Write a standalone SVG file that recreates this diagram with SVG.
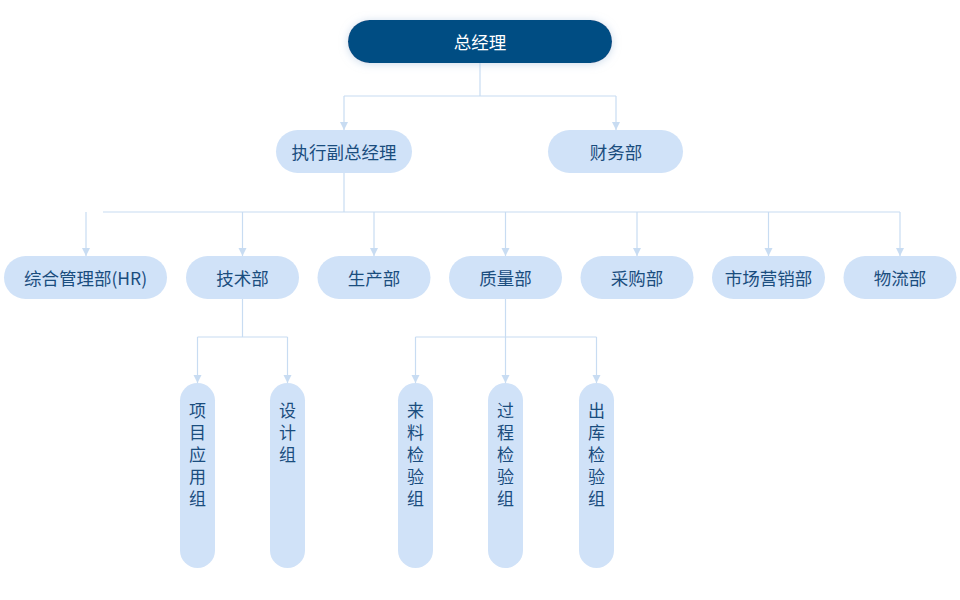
<svg xmlns="http://www.w3.org/2000/svg" width="960" height="600" viewBox="0 0 960 600">
<style>
.bg{fill:#ffffff}
.lt{fill:#d0e2f8}
.dk{fill:#004d83}
.t{font-family:"Noto Sans CJK SC","Noto Sans",sans-serif;font-size:17.5px;fill:#1a4d7e;text-anchor:middle;dominant-baseline:central}
.tw{fill:#ffffff}
.tv{font-family:"Noto Sans CJK SC","Noto Sans",sans-serif;font-size:17px;fill:#1a4d7e;writing-mode:vertical-rl;text-orientation:upright;letter-spacing:5px;text-anchor:start}
.c{stroke:#c8dcf2;stroke-width:1.2;fill:none}
.a{marker-end:url(#ar)}
</style>
<defs>
<marker id="ar" markerUnits="userSpaceOnUse" markerWidth="10" markerHeight="10" viewBox="0 0 10 10" refX="9" refY="5" orient="auto">
<path d="M1,1 L9,5 L1,9 z" fill="#c8dcf2"/>
</marker>
<filter id="glow" x="-20%" y="-60%" width="140%" height="220%">
<feDropShadow dx="0" dy="1" stdDeviation="4" flood-color="#a9c3de" flood-opacity="0.6"/>
</filter>
</defs>
<rect class="bg" width="960" height="600"/>
<g id="connectors">
<path class="c" d="M480,63 V96 M344,96 H616"/>
<path class="c a" d="M344,96 V130"/>
<path class="c a" d="M616,96 V130"/>
<path class="c" d="M344,173 V212 M103,212 H900"/>
<path class="c a" d="M86,212 V256"/>
<path class="c a" d="M242.5,212 V256"/>
<path class="c a" d="M374,212 V256"/>
<path class="c a" d="M505.5,212 V256"/>
<path class="c a" d="M637,212 V256"/>
<path class="c a" d="M768.5,212 V256"/>
<path class="c a" d="M900,212 V256"/>
<path class="c" d="M242.5,299 V337 M197.5,337 H287.5"/>
<path class="c a" d="M197.5,337 V383"/>
<path class="c a" d="M287.5,337 V383"/>
<path class="c" d="M505.5,299 V337 M415.5,337 H596.5"/>
<path class="c a" d="M415.5,337 V383"/>
<path class="c a" d="M505.5,337 V383"/>
<path class="c a" d="M596.5,337 V383"/>
</g>
<g id="n-gm">
<rect class="dk" x="348" y="20" width="264" height="43" rx="21.5" filter="url(#glow)"/>
<text class="t tw" x="480" y="41.5">总经理</text>
</g>
<g id="n-evp">
<rect class="lt" x="276" y="130" width="136" height="43" rx="21.5"/>
<text class="t" x="344" y="151.5">执行副总经理</text>
</g>
<g id="n-fin">
<rect class="lt" x="548" y="130" width="135" height="43" rx="21.5"/>
<text class="t" x="616" y="151.5">财务部</text>
</g>
<g id="n-hr">
<rect class="lt" x="4" y="256" width="163" height="43" rx="21.5"/>
<text class="t" x="85.5" y="277.5">综合管理部(HR)</text>
</g>
<g id="n-tech">
<rect class="lt" x="186" y="256" width="113" height="43" rx="21.5"/>
<text class="t" x="242.5" y="277.5">技术部</text>
</g>
<g id="n-prod">
<rect class="lt" x="317.5" y="256" width="113" height="43" rx="21.5"/>
<text class="t" x="374" y="277.5">生产部</text>
</g>
<g id="n-qa">
<rect class="lt" x="449" y="256" width="113" height="43" rx="21.5"/>
<text class="t" x="505.5" y="277.5">质量部</text>
</g>
<g id="n-pur">
<rect class="lt" x="580.5" y="256" width="113" height="43" rx="21.5"/>
<text class="t" x="637" y="277.5">采购部</text>
</g>
<g id="n-mkt">
<rect class="lt" x="712" y="256" width="113" height="43" rx="21.5"/>
<text class="t" x="768.5" y="277.5">市场营销部</text>
</g>
<g id="n-log">
<rect class="lt" x="843.5" y="256" width="113" height="43" rx="21.5"/>
<text class="t" x="900" y="277.5">物流部</text>
</g>
<g id="n-proj">
<rect class="lt" x="180" y="383" width="35" height="185" rx="17.5"/>
<text class="tv" x="197.5" y="402">项目应用组</text>
</g>
<g id="n-design">
<rect class="lt" x="270" y="383" width="35" height="185" rx="17.5"/>
<text class="tv" x="287.5" y="402">设计组</text>
</g>
<g id="n-iqc">
<rect class="lt" x="398" y="383" width="35" height="185" rx="17.5"/>
<text class="tv" x="415.5" y="402">来料检验组</text>
</g>
<g id="n-ipqc">
<rect class="lt" x="488" y="383" width="35" height="185" rx="17.5"/>
<text class="tv" x="505.5" y="402">过程检验组</text>
</g>
<g id="n-oqc">
<rect class="lt" x="579" y="383" width="35" height="185" rx="17.5"/>
<text class="tv" x="596.5" y="402">出库检验组</text>
</g>
</svg>
